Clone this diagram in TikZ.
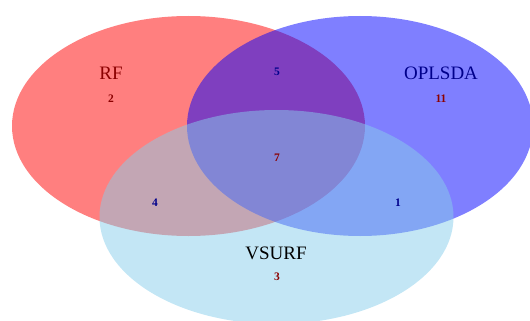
\documentclass[tikz,border=0pt]{standalone}
\usepackage{fontspec}
\setmainfont{Liberation Serif}
\usetikzlibrary{positioning}
\definecolor{setred}{RGB}{255,0,0}
\definecolor{setblue}{RGB}{0,0,255}
\definecolor{setsky}{RGB}{135,206,235}
\definecolor{lbldarkred}{RGB}{139,0,0}
\definecolor{lbldarkblue}{RGB}{0,0,139}
\tikzset{
  setname/.style={inner sep=0pt, font=\fontsize{19}{22}\selectfont},
  count/.style={inner sep=0pt, font=\fontsize{11.5}{13}\selectfont\bfseries},
  redcount/.style={count, text=lbldarkred},
  bluecount/.style={count, text=lbldarkblue}
}
\begin{document}
\begin{tikzpicture}[x=1pt, y=-1pt]
\useasboundingbox (0,0) rectangle (530,321);
\clip (0,0) rectangle (530,321);
% the three sets
\fill[setred, opacity=0.5] (188.5,126) ellipse (176.5 and 110);
\fill[setblue, opacity=0.5] (360,126) ellipse (173 and 110);
\fill[setsky, opacity=0.5] (276.5,217) ellipse (177 and 107);
% set names
\node[setname, text=lbldarkred] (rf) at (111,73) {RF};
\node[setname, text=lbldarkblue] (opls) at (441,73) {OPLSDA};
\node[setname, text=black] (vsurf) at (276,253) {VSURF};
% counts
\node[redcount] (nrf) at (111,99) {2};
\node[redcount] (nopls) at (441,99) {11};
\node[redcount] (nvsurf) at (277,277) {3};
\node[bluecount] (nrfopls) at (277,72) {5};
\node[redcount] (nall) at (277,158) {7};
\node[bluecount] (nrfvsurf) at (155,203) {4};
\node[bluecount] (noplsvsurf) at (398,203) {1};
\end{tikzpicture}
\end{document}
